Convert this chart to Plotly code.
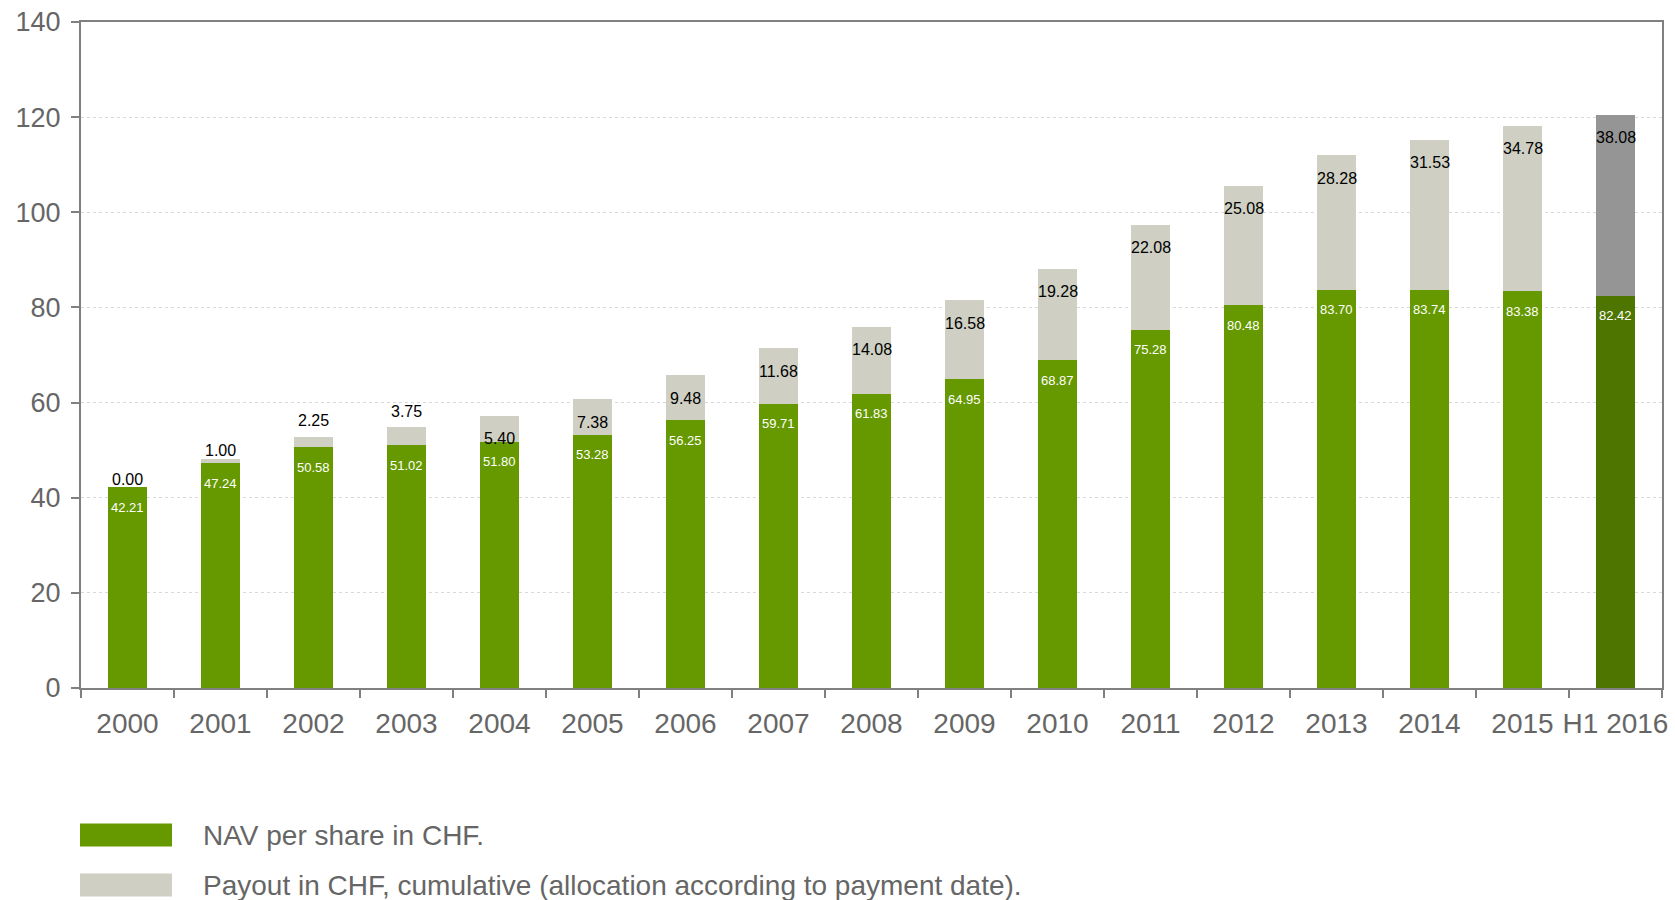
import plotly.graph_objects as go

# Reporting periods
periods = ["2000", "2001", "2002", "2003", "2004", "2005", "2006", "2007", "2008",
           "2009", "2010", "2011", "2012", "2013", "2014", "2015", "H1 2016"]

# Net asset value per share in CHF
nav = [42.21, 47.24, 50.58, 51.02, 51.80, 53.28, 56.25, 59.71, 61.83,
       64.95, 68.87, 75.28, 80.48, 83.70, 83.74, 83.38, 82.42]

# Cumulative payout in CHF
payout = [0.00, 1.00, 2.25, 3.75, 5.40, 7.38, 9.48, 11.68, 14.08,
          16.58, 19.28, 22.08, 25.08, 28.28, 31.53, 34.78, 38.08]

y_ticks = [0, 20, 40, 60, 80, 100, 120, 140]

GREEN = "#669900"
GREEN_H1 = "#4d7500"
GREY = "#cfd0c3"
GREY_H1 = "#959595"
AXIS = "#808080"
FONT = "Liberation Sans, Arial, sans-serif"

# the half-year period is highlighted with darker tones
nav_colors = [GREEN] * (len(periods) - 1) + [GREEN_H1]
pay_colors = [GREY] * (len(periods) - 1) + [GREY_H1]

fig = go.Figure()
fig.add_trace(go.Bar(x=periods, y=nav, marker=dict(color=nav_colors, line_width=0),
                     name="NAV per share in CHF.", width=0.41))
fig.add_trace(go.Bar(x=periods, y=payout, marker=dict(color=pay_colors, line_width=0),
                     name="Payout in CHF, cumulative (allocation according to payment date).",
                     width=0.41))

annotations = []
for i, (n, c) in enumerate(zip(nav, payout)):
    # NAV value in white just below the top of the green segment
    annotations.append(dict(x=i, y=n, text=f"{n:.2f}", showarrow=False,
                            yanchor="middle", yshift=-20,
                            font=dict(family=FONT, size=13, color="white")))
    # payout value: above short segments, inside the top of taller ones
    top = n + c
    if c < 5:
        shift = 8 if c < 2 else 16
    else:
        shift = -23
    annotations.append(dict(x=i, y=top, text=f"{c:.2f}", showarrow=False,
                            yanchor="middle", yshift=shift,
                            font=dict(family=FONT, size=16, color="black")))

# legend drawn as wide swatches with labels beneath the plot
legend_items = [(GREEN, "NAV per share in CHF."),
                (GREY, "Payout in CHF, cumulative (allocation according to payment date).")]
shapes = []
for k, (col, label) in enumerate(legend_items):
    yc = 835 + k * 50
    shapes.append(dict(type="rect", xref="paper", yref="paper",
                       x0=(80 - 81) / 1581, x1=(172 - 81) / 1581,
                       y0=(688 - (yc + 11.5)) / 666, y1=(688 - (yc - 11.5)) / 666,
                       fillcolor=col, line_width=0))
    annotations.append(dict(xref="paper", yref="paper", x=(201 - 81) / 1581,
                            y=(688 - yc) / 666, xanchor="left", yanchor="middle",
                            text=label, showarrow=False,
                            font=dict(family=FONT, size=28, color="#666666")))

fig.update_layout(
    barmode="stack",
    width=1675, height=900,
    margin=dict(l=81, r=13, t=22, b=212),
    paper_bgcolor="white", plot_bgcolor="white",
    showlegend=False,
    annotations=annotations,
    shapes=shapes,
    font=dict(family=FONT, color="#666666"),
)
fig.update_xaxes(
    type="category", range=[-0.5, len(periods) - 0.5], autorange=False,
    automargin=False,
    tickson="boundaries", ticks="outside", ticklen=8, tickwidth=2,
    tickcolor=AXIS, showline=True, linecolor=AXIS, linewidth=2, mirror=True,
    tickfont=dict(family=FONT, size=28, color="#666666"), ticklabelstandoff=9,
    tickangle=0, showgrid=False,
)
fig.update_yaxes(
    range=[0, 140], autorange=False, automargin=False, tickvals=y_ticks,
    ticks="outside", ticklen=8, ticklabelstandoff=5,
    tickwidth=2, tickcolor=AXIS, showline=True, linecolor=AXIS, linewidth=2, mirror=True,
    tickfont=dict(family=FONT, size=27, color="#666666"),
    showgrid=True, gridcolor="#d9d9d9", gridwidth=1, griddash="dot",
    zeroline=False,
)

fig.write_html("out.html")
